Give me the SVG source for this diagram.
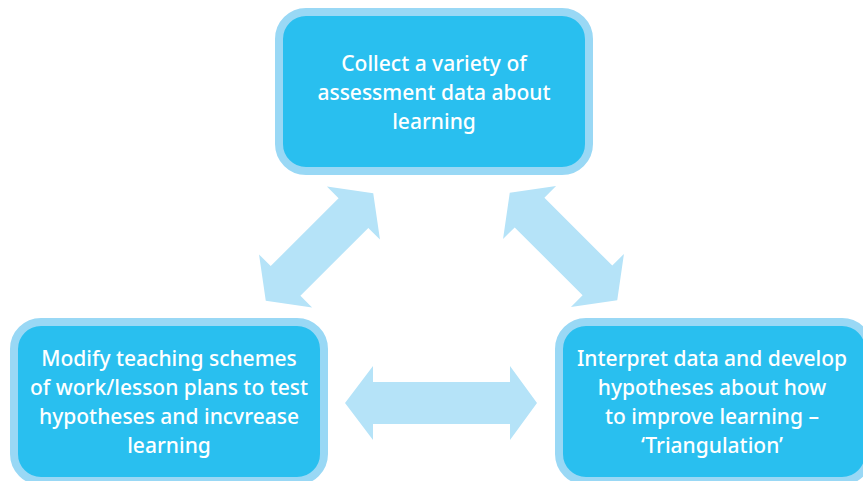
<svg xmlns="http://www.w3.org/2000/svg" width="863" height="481" viewBox="0 0 863 481">
<style>
.box{fill:#29BFEF;stroke:#99D8F5;stroke-width:8}
.lbl{font-family:"Noto Sans","Open Sans","Liberation Sans",sans-serif;font-size:21px;font-weight:500;fill:#FFFFFF;text-anchor:middle}
.arr{fill:#B5E3F8}
</style>
<defs>
<polygon id="dblArrowS" points="-76,0 -48,-37.5 -48,-21 48,-21 48,-37.5 76,0 48,37.5 48,21 -48,21 -48,37.5"/>
</defs>
<rect width="863" height="481" fill="#FFFFFF"/>
<g id="connectors">
<use href="#dblArrowS" class="arr" transform="translate(319.5,247) rotate(-45)"/>
<use href="#dblArrowS" class="arr" transform="translate(563.5,246.5) rotate(45)"/>
<polygon class="arr" points="345,403 373,366 373,382 510,382 510,366 537,403 510,440 510,424 373,424 373,440"/>
</g>
<g id="node-collect">
<rect class="box" x="279" y="12" width="310" height="159" rx="27"/>
<text class="lbl" x="434" y="71">Collect a variety of</text>
<text class="lbl" x="434" y="100">assessment data about</text>
<text class="lbl" x="434" y="129">learning</text>
</g>
<g id="node-modify">
<rect class="box" x="14" y="322" width="310" height="159" rx="27"/>
<text class="lbl" x="169" y="366">Modify teaching schemes</text>
<text class="lbl" x="169" y="395">of work/lesson plans to test</text>
<text class="lbl" x="169" y="424">hypotheses and incvrease</text>
<text class="lbl" x="169" y="453">learning</text>
</g>
<g id="node-interpret">
<rect class="box" x="559" y="322" width="310" height="159" rx="27"/>
<text class="lbl" x="712" y="366">Interpret data and develop</text>
<text class="lbl" x="712" y="395">hypotheses about how</text>
<text class="lbl" x="712" y="424">to improve learning –</text>
<text class="lbl" x="712" y="453">‘Triangulation’</text>
</g>
</svg>
